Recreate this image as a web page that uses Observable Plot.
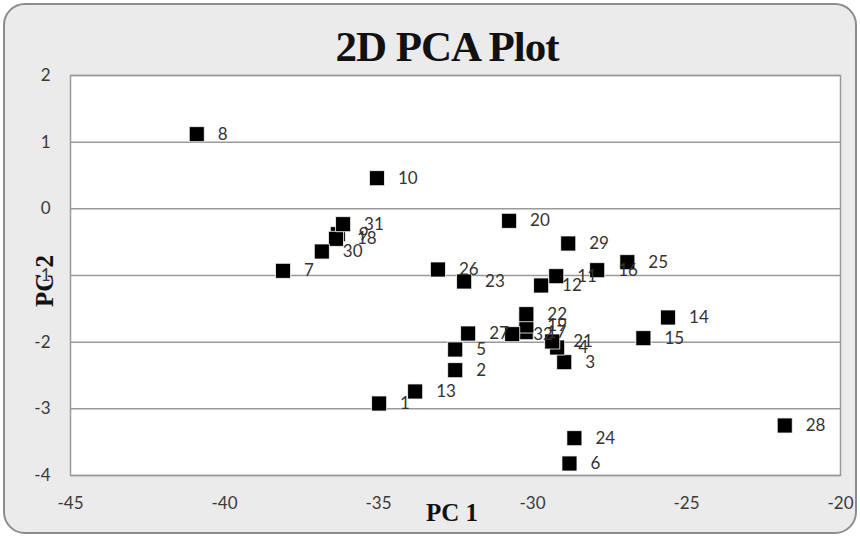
<!DOCTYPE html>
<html>
<head>
<meta charset="utf-8">
<script src="https://cdn.jsdelivr.net/npm/d3@7"></script>
<script src="https://cdn.jsdelivr.net/npm/@observablehq/plot@0.6"></script>
<style>
  html, body { margin: 0; padding: 0; background: #ffffff; }
  #wrap { position: relative; width: 860px; height: 537px; overflow: hidden; }
  #frame { position: absolute; left: 3px; top: 3px; width: 850px; height: 527px;
           background: #ebebeb; border: 2px solid #8c8c8c; border-radius: 22px; }
  #chart { position: absolute; left: 0; top: 0; }
  .ttl { position: absolute; font-family: "Liberation Serif", "DejaVu Serif", serif; font-weight: bold; color: #111; white-space: nowrap; }
  #title { left: 0; width: 894px; top: 22px; text-align: center; font-size: 43px; letter-spacing: -1px; }
  #xt { left: 0; width: 904px; top: 499px; text-align: center; font-size: 25px; }
  #yt { left: 45px; top: 281px; font-size: 25px; transform: translate(-50%, -50%) rotate(-90deg); }
</style>
</head>
<body>
<div id="wrap">
  <div id="frame"></div>
  <div id="chart"></div>
  <div class="ttl" id="title">2D PCA Plot</div>
  <div class="ttl" id="xt">PC 1</div>
  <div class="ttl" id="yt">PC 2</div>
</div>
<script>
const ids = [1,2,3,4,5,6,7,8,9,10,11,12,13,14,15,16,17,18,19,20,21,22,23,24,25,26,27,28,29,30,31,32];
const pc1 = [-34.98,-32.51,-28.97,-29.2,-32.51,-28.8,-38.1,-40.9,-36.32,-35.05,-29.23,-29.72,-33.81,-25.6,-26.4,-27.9,-30.22,-36.38,-30.2,-30.76,-29.36,-30.2,-32.22,-28.64,-26.92,-33.07,-32.09,-21.81,-28.84,-36.84,-36.15,-30.66];
const pc2 = [-2.92,-2.42,-2.30,-2.08,-2.11,-3.82,-0.93,1.12,-0.38,0.46,-1.01,-1.15,-2.74,-1.63,-1.94,-0.92,-1.85,-0.45,-1.75,-0.18,-1.99,-1.58,-1.09,-3.44,-0.80,-0.91,-1.87,-3.25,-0.52,-0.64,-0.23,-1.88];
const xTicks = [-45,-40,-35,-30,-25,-20];
const yTicks = [2,1,0,-1,-2,-3,-4];

const data = ids.map((id, i) => ({id, x: pc1[i], y: pc2[i]}));

const chart = Plot.plot({
  width: 860,
  height: 537,
  marginLeft: 70,
  marginRight: 20,
  marginTop: 75,
  marginBottom: 62,
  style: { background: "transparent", fontFamily: "Lato, 'Open Sans', sans-serif" },
  x: { domain: [-45, -20] },
  y: { domain: [-4, 2] },
  marks: [
    Plot.frame({ fill: "white", stroke: "#9a9a9a", strokeWidth: 1.5 }),
    Plot.ruleY(yTicks, { stroke: "#9a9a9a", strokeWidth: 1.5 }),
    Plot.axisY({ ticks: yTicks, tickFormat: d => String(d), tickSize: 0, tickPadding: 20, label: null, fontSize: 17, fill: "#3a3a3a" }),
    Plot.axisX({ ticks: xTicks, tickFormat: d => String(d), tickSize: 0, tickPadding: 21, label: null, fontSize: 17, fill: "#3a3a3a" }),
    Plot.dot(data, { x: "x", y: "y", symbol: "square", r: 8.5, fill: "black", stroke: "white", strokeWidth: 0.8 }),
    Plot.text(data, { x: "x", y: "y", text: "id", dx: 21, textAnchor: "start", fontSize: 17, fill: "#333" })
  ]
});
document.getElementById("chart").appendChild(chart);
</script>
</body>
</html>
